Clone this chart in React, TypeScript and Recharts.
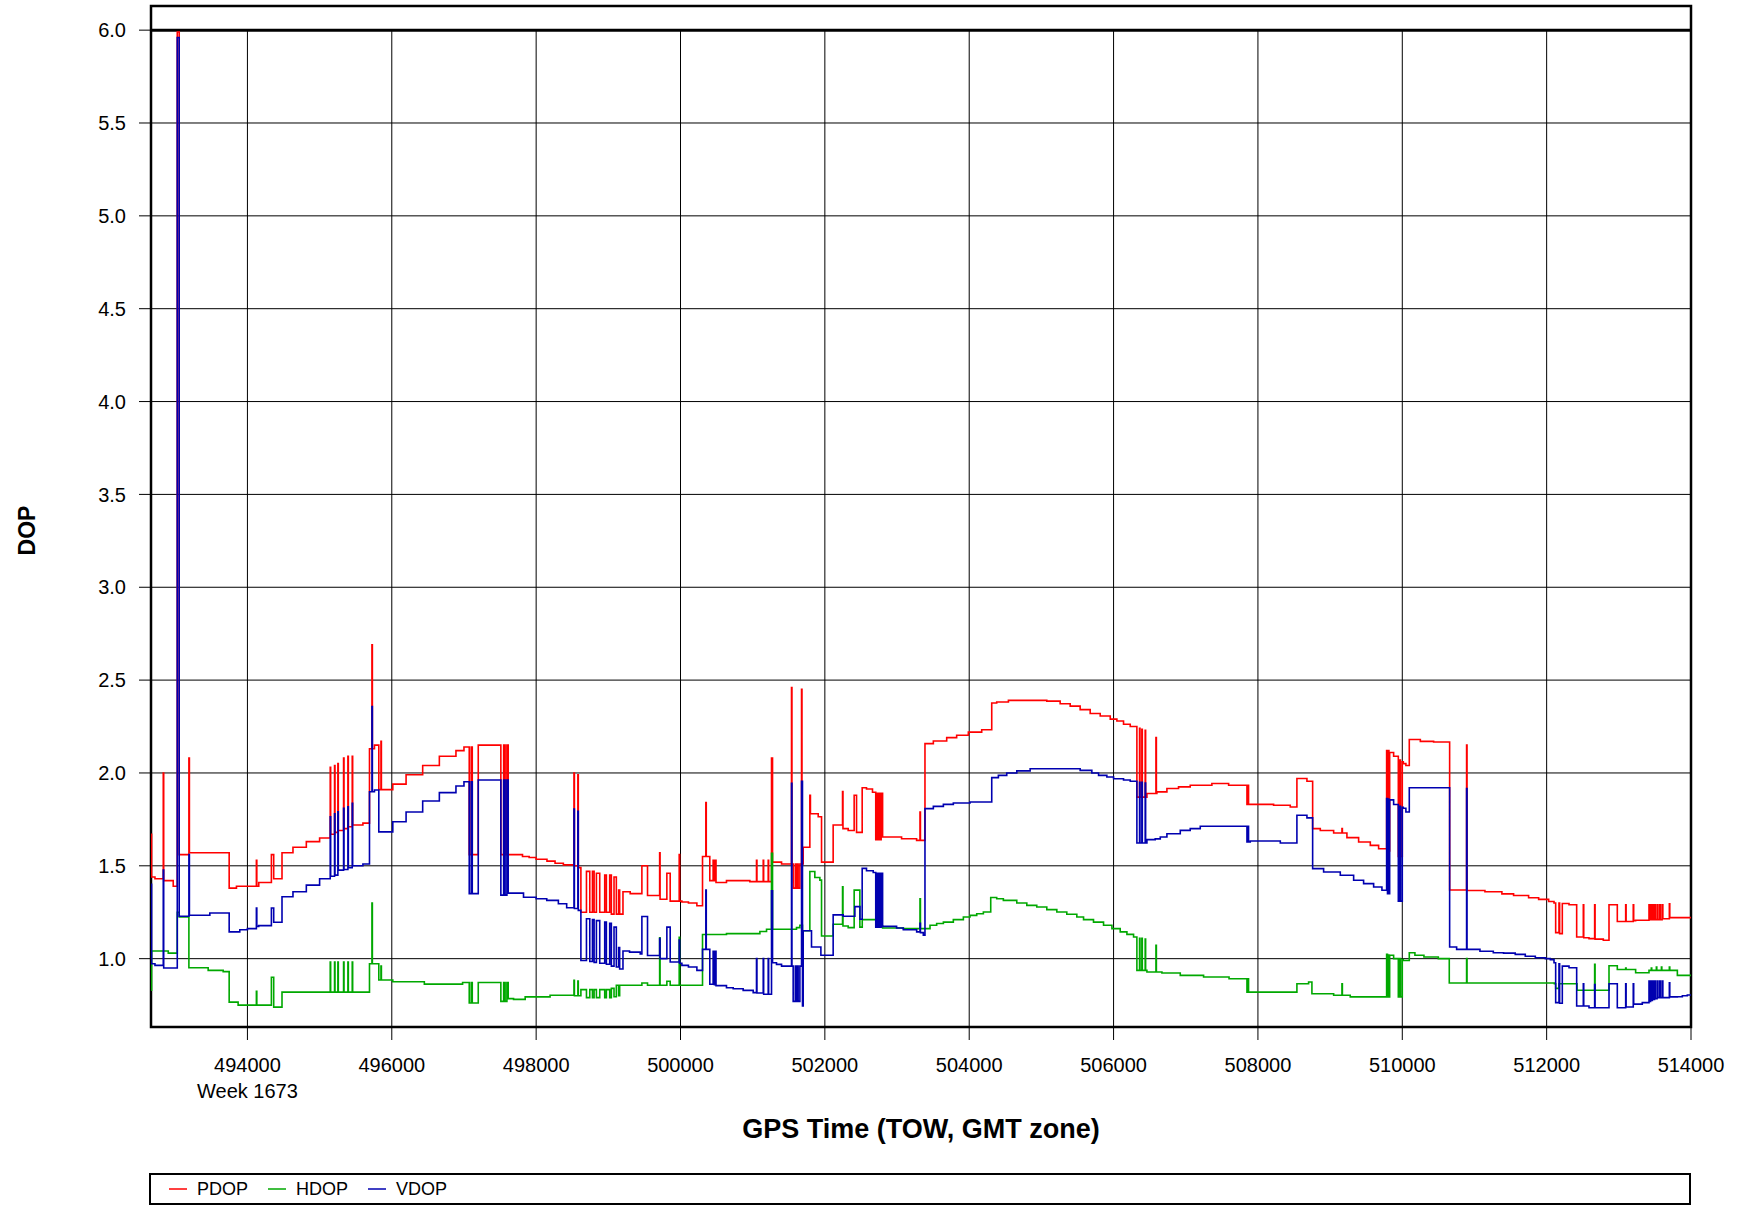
import React from "react";
import {
  LineChart,
  Line,
  XAxis,
  YAxis,
  CartesianGrid,
  ReferenceArea,
  ReferenceLine,
  Legend,
} from "recharts";

// GPS time of week (s) and DOP value; step-after series
const PDOP: [number, number][] = [
  [492664, 1.67], [492672, 1.44], [492719, 1.43], [492834, 2.0], [492840, 1.42], [492972, 1.39],
  [493028, 5.99], [493055, 1.56], [493189, 2.08], [493196, 1.57], [493747, 1.38], [493848, 1.39],
  [494124, 1.53], [494130, 1.39], [494157, 1.41], [494332, 1.56], [494364, 1.43], [494479, 1.57],
  [494631, 1.6], [494816, 1.63], [495000, 1.65], [495147, 2.03], [495153, 1.67], [495207, 2.04],
  [495213, 1.68], [495253, 2.05], [495259, 1.69], [495332, 2.08], [495338, 1.7], [495392, 2.09],
  [495398, 1.71], [495452, 2.09], [495458, 1.72], [495600, 1.73], [495691, 2.13], [495725, 2.69],
  [495731, 2.13], [495760, 2.15], [495820, 1.91], [495850, 2.17], [495856, 1.91], [496014, 1.94],
  [496198, 1.99], [496428, 2.04], [496659, 2.09], [496889, 2.12], [497000, 2.14], [497073, 1.56],
  [497100, 2.14], [497115, 1.56], [497198, 2.15], [497511, 1.56], [497550, 2.15], [497570, 1.56],
  [497595, 2.15], [497613, 1.56], [497811, 1.55], [497903, 1.545], [498000, 1.535], [498150, 1.525],
  [498262, 1.514], [498377, 1.505], [498524, 2.0], [498530, 1.5], [498578, 1.99], [498584, 1.49],
  [498620, 1.25], [498697, 1.47], [498743, 1.25], [498780, 1.47], [498803, 1.25], [498835, 1.46],
  [498881, 1.25], [498950, 1.45], [498973, 1.25], [499019, 1.45], [499042, 1.24], [499079, 1.44],
  [499111, 1.24], [499143, 1.37], [499157, 1.24], [499203, 1.36], [499303, 1.35], [499465, 1.5],
  [499543, 1.34], [499711, 1.57], [499717, 1.32], [499811, 1.46], [499857, 1.31], [499982, 1.56],
  [499988, 1.31], [500019, 1.305], [500110, 1.3], [500227, 1.285], [500305, 1.55], [500351, 1.84],
  [500357, 1.55], [500406, 1.42], [500452, 1.53], [500470, 1.42], [500480, 1.53], [500492, 1.41],
  [500637, 1.42], [500961, 1.415], [501053, 1.53], [501059, 1.415], [501146, 1.53], [501152, 1.415],
  [501215, 1.53], [501221, 1.415], [501261, 2.08], [501275, 1.52], [501400, 1.51], [501538, 2.46],
  [501544, 1.51], [501561, 1.38], [501590, 1.51], [501600, 1.38], [501620, 1.51], [501630, 1.38],
  [501654, 1.51], [501677, 2.45], [501683, 1.51], [501700, 1.6], [501792, 1.88], [501800, 1.78],
  [501908, 1.764], [501954, 1.52], [502115, 1.72], [502245, 1.9], [502251, 1.7], [502323, 1.69],
  [502406, 1.88], [502439, 1.68], [502517, 1.92], [502577, 1.914], [502660, 1.896], [502705, 1.64],
  [502720, 1.89], [502740, 1.64], [502755, 1.89], [502770, 1.64], [502780, 1.89], [502800, 1.655],
  [503063, 1.646], [503271, 1.637], [503318, 1.79], [503324, 1.637], [503387, 2.158], [503503, 2.172],
  [503688, 2.19], [503826, 2.203], [503988, 2.22], [504173, 2.233], [504312, 2.377], [504381, 2.382],
  [504543, 2.391], [505075, 2.387], [505260, 2.373], [505399, 2.36], [505537, 2.341], [505676, 2.32],
  [505815, 2.307], [505954, 2.29], [506046, 2.28], [506138, 2.262], [506231, 2.25], [506323, 1.87],
  [506360, 2.24], [506366, 1.87], [506392, 2.235], [506398, 1.87], [506438, 2.23], [506444, 1.87],
  [506462, 1.889], [506587, 2.19], [506593, 1.89], [506600, 1.898], [506739, 1.916], [506900, 1.925],
  [507062, 1.934], [507362, 1.943], [507594, 1.934], [507848, 1.831], [507860, 1.934], [507870, 1.831],
  [508217, 1.826], [508448, 1.817], [508540, 1.97], [508679, 1.955], [508758, 1.7], [508864, 1.69],
  [509049, 1.677], [509164, 1.7], [509170, 1.677], [509233, 1.652], [509395, 1.628], [509557, 1.61],
  [509672, 1.592], [509783, 2.12], [509795, 1.58], [509805, 2.12], [509815, 1.58], [509825, 2.11],
  [509880, 2.09], [509945, 1.55], [509960, 2.07], [509975, 1.55], [510000, 2.06], [510014, 2.05],
  [510050, 2.04], [510097, 2.18], [510250, 2.17], [510434, 2.167], [510656, 1.37], [510891, 2.15],
  [510897, 1.367], [511145, 1.36], [511380, 1.349], [511542, 1.34], [511750, 1.328], [511889, 1.319],
  [512028, 1.308], [512102, 1.3], [512125, 1.14], [512171, 1.3], [512180, 1.135], [512217, 1.297],
  [512310, 1.29], [512416, 1.117], [512508, 1.29], [512514, 1.113], [512587, 1.108], [512665, 1.29],
  [512671, 1.105], [512785, 1.099], [512864, 1.29], [512979, 1.2], [513095, 1.29], [513101, 1.2],
  [513200, 1.29], [513206, 1.205], [513233, 1.207], [513418, 1.29], [513425, 1.21], [513440, 1.29],
  [513448, 1.21], [513465, 1.29], [513475, 1.21], [513495, 1.29], [513505, 1.21], [513530, 1.29],
  [513540, 1.21], [513565, 1.29], [513575, 1.21], [513600, 1.29], [513610, 1.215], [513700, 1.295],
  [513706, 1.221], [514000, 1.221],
];

const HDOP: [number, number][] = [
  [492664, 0.83], [492672, 1.041], [492903, 1.03], [493028, 1.25], [493055, 1.225], [493189, 0.951],
  [493456, 0.937], [493664, 0.93], [493747, 0.766], [493871, 0.75], [494124, 0.824], [494130, 0.75],
  [494332, 0.9], [494364, 0.739], [494479, 0.82], [495147, 0.982], [495153, 0.82], [495207, 0.982],
  [495213, 0.82], [495253, 0.982], [495259, 0.82], [495332, 0.982], [495338, 0.82], [495392, 0.982],
  [495398, 0.82], [495452, 0.982], [495458, 0.82], [495691, 0.973], [495725, 1.3], [495731, 0.973],
  [495820, 0.885], [495850, 0.96], [495856, 0.885], [496014, 0.876], [496451, 0.863], [496981, 0.872],
  [497073, 0.761], [497100, 0.872], [497115, 0.761], [497198, 0.872], [497511, 0.77], [497550, 0.872],
  [497570, 0.77], [497595, 0.872], [497613, 0.785], [497687, 0.781], [497848, 0.794], [498193, 0.803],
  [498524, 0.884], [498530, 0.8], [498578, 0.88], [498584, 0.8], [498620, 0.833], [498697, 0.79],
  [498743, 0.833], [498780, 0.79], [498803, 0.833], [498835, 0.79], [498881, 0.833], [498950, 0.79],
  [498973, 0.833], [499019, 0.79], [499042, 0.84], [499079, 0.795], [499111, 0.857], [499143, 0.8],
  [499157, 0.857], [499465, 0.869], [499543, 0.857], [499711, 1.112], [499717, 0.857], [499811, 0.878],
  [499857, 0.857], [499982, 1.115], [499988, 0.857], [500305, 1.13], [500637, 1.135], [501100, 1.146],
  [501192, 1.158], [501261, 1.567], [501275, 1.158], [501607, 1.167], [501654, 1.18], [501690, 1.15],
  [501792, 1.469], [501861, 1.437], [501931, 1.423], [501954, 1.122], [502115, 1.185], [502245, 1.387],
  [502251, 1.176], [502323, 1.167], [502406, 1.369], [502485, 1.17], [502518, 1.21], [502717, 1.175],
  [502800, 1.165], [503087, 1.162], [503318, 1.323], [503324, 1.162], [503457, 1.18], [503549, 1.189],
  [503642, 1.197], [503780, 1.21], [503919, 1.224], [504011, 1.233], [504104, 1.242], [504196, 1.251],
  [504298, 1.329], [504381, 1.323], [504473, 1.314], [504659, 1.3], [504798, 1.287], [504936, 1.278],
  [505075, 1.264], [505214, 1.251], [505352, 1.239], [505491, 1.224], [505584, 1.21], [505722, 1.197],
  [505861, 1.18], [505977, 1.162], [506092, 1.144], [506185, 1.131], [506277, 1.117], [506323, 0.937],
  [506360, 1.11], [506366, 0.937], [506392, 1.11], [506398, 0.937], [506438, 1.105], [506444, 0.937],
  [506462, 0.928], [506587, 1.072], [506593, 0.928], [506670, 0.923], [506924, 0.91], [507247, 0.901],
  [507600, 0.892], [507848, 0.82], [507860, 0.892], [507870, 0.82], [508540, 0.865], [508702, 0.874],
  [508748, 0.811], [509049, 0.803], [509164, 0.865], [509170, 0.803], [509279, 0.794], [509783, 1.023],
  [509795, 0.794], [509805, 1.02], [509815, 0.794], [509825, 1.018], [509880, 1.0], [509945, 0.794],
  [509960, 1.0], [509975, 0.794], [510000, 0.995], [510014, 0.99], [510097, 1.032], [510175, 1.018],
  [510300, 1.009], [510499, 1.0], [510651, 0.869], [510891, 1.0], [510897, 0.869], [512107, 0.865],
  [512125, 0.84], [512171, 0.865], [512421, 0.83], [512665, 0.97], [512671, 0.83], [512864, 0.962],
  [512979, 0.942], [513095, 0.95], [513101, 0.942], [513233, 0.924], [513418, 0.937], [513450, 0.95],
  [513456, 0.937], [513520, 0.955], [513526, 0.937], [513590, 0.955], [513596, 0.937], [513700, 0.955],
  [513706, 0.937], [513811, 0.91], [514000, 0.91],
];

const VDOP: [number, number][] = [
  [492664, 1.4], [492672, 0.973], [492719, 0.964], [492834, 1.477], [492840, 0.95], [493028, 5.96],
  [493055, 1.228], [493189, 1.561], [493196, 1.234], [493479, 1.246], [493747, 1.144], [493894, 1.156],
  [494000, 1.162], [494124, 1.273], [494130, 1.174], [494157, 1.178], [494332, 1.273], [494364, 1.196],
  [494479, 1.333], [494631, 1.36], [494816, 1.396], [495000, 1.43], [495147, 1.764], [495153, 1.444],
  [495207, 1.78], [495213, 1.45], [495253, 1.791], [495259, 1.477], [495332, 1.81], [495338, 1.48],
  [495392, 1.818], [495398, 1.49], [495452, 1.836], [495458, 1.5], [495600, 1.51], [495691, 1.899],
  [495725, 2.358], [495731, 1.899], [495760, 1.908], [495820, 1.683], [496014, 1.737], [496198, 1.79],
  [496428, 1.849], [496659, 1.894], [496889, 1.93], [497000, 1.953], [497073, 1.35], [497100, 1.953],
  [497115, 1.35], [497198, 1.962], [497511, 1.342], [497550, 1.962], [497570, 1.342], [497595, 1.962],
  [497613, 1.353], [497825, 1.331], [498000, 1.323], [498147, 1.314], [498308, 1.296], [498423, 1.274],
  [498524, 1.806], [498530, 1.27], [498578, 1.794], [498584, 1.26], [498620, 0.99], [498697, 1.215],
  [498743, 0.985], [498780, 1.21], [498803, 0.98], [498835, 1.205], [498881, 0.975], [498950, 1.197],
  [498973, 0.97], [499019, 1.19], [499042, 0.96], [499079, 1.17], [499111, 0.955], [499143, 1.06],
  [499157, 0.944], [499203, 1.041], [499294, 1.035], [499442, 1.026], [499465, 1.227], [499543, 1.017],
  [499711, 1.108], [499717, 1.0], [499811, 1.17], [499857, 0.982], [499982, 1.1], [499988, 0.975],
  [500019, 0.964], [500110, 0.955], [500227, 0.937], [500305, 1.05], [500351, 1.37], [500357, 1.05],
  [500406, 0.862], [500452, 1.04], [500470, 0.86], [500480, 1.04], [500492, 0.855], [500637, 0.843],
  [500730, 0.838], [500868, 0.829], [501007, 0.817], [501053, 1.0], [501059, 0.815], [501146, 1.0],
  [501152, 0.808], [501215, 1.0], [501221, 0.808], [501261, 1.365], [501275, 0.978], [501330, 0.969],
  [501400, 0.96], [501538, 1.944], [501544, 0.96], [501561, 0.77], [501590, 0.96], [501600, 0.77],
  [501620, 0.96], [501630, 0.77], [501654, 0.96], [501677, 1.955], [501690, 0.745], [501700, 1.15],
  [501815, 1.063], [501945, 1.018], [502115, 1.236], [502254, 1.228], [502416, 1.28], [502486, 1.212],
  [502517, 1.486], [502577, 1.473], [502670, 1.464], [502705, 1.17], [502720, 1.46], [502740, 1.17],
  [502755, 1.46], [502770, 1.17], [502780, 1.46], [502800, 1.174], [502994, 1.165], [503087, 1.156],
  [503272, 1.144], [503318, 1.19], [503324, 1.14], [503364, 1.126], [503387, 1.808], [503503, 1.82],
  [503642, 1.831], [503780, 1.838], [504011, 1.844], [504312, 1.975], [504404, 1.987], [504520, 2.0],
  [504659, 2.011], [504844, 2.023], [505537, 2.014], [505699, 2.0], [505792, 1.987], [505907, 1.978],
  [506000, 1.969], [506138, 1.962], [506231, 1.955], [506323, 1.623], [506360, 1.95], [506366, 1.623],
  [506392, 1.95], [506398, 1.623], [506438, 1.945], [506444, 1.623], [506462, 1.641], [506577, 1.645],
  [506647, 1.655], [506739, 1.673], [506924, 1.691], [507062, 1.7], [507201, 1.713], [507848, 1.628],
  [507860, 1.713], [507870, 1.628], [507894, 1.634], [508310, 1.623], [508540, 1.772], [508679, 1.758],
  [508758, 1.485], [508910, 1.467], [509141, 1.449], [509326, 1.422], [509464, 1.404], [509603, 1.386],
  [509718, 1.368], [509783, 1.862], [509795, 1.35], [509805, 1.86], [509815, 1.35], [509825, 1.855],
  [509880, 1.83], [509945, 1.31], [509960, 1.82], [509975, 1.31], [510000, 1.815], [510014, 1.81],
  [510050, 1.79], [510097, 1.92], [510656, 1.063], [510753, 1.05], [510891, 1.916], [510897, 1.05],
  [511076, 1.04], [511261, 1.032], [511403, 1.03], [511565, 1.023], [511704, 1.013], [511843, 1.005],
  [511982, 1.0], [512051, 0.995], [512102, 0.978], [512125, 0.763], [512171, 0.973], [512180, 0.76],
  [512217, 0.96], [512310, 0.951], [512416, 0.745], [512508, 0.865], [512514, 0.745], [512587, 0.736],
  [512665, 0.86], [512671, 0.736], [512864, 0.865], [512979, 0.736], [513095, 0.865], [513101, 0.74],
  [513200, 0.865], [513206, 0.755], [513325, 0.763], [513418, 0.88], [513425, 0.77], [513440, 0.88],
  [513448, 0.775], [513465, 0.88], [513475, 0.78], [513495, 0.88], [513505, 0.785], [513530, 0.88],
  [513540, 0.79], [513565, 0.88], [513575, 0.79], [513600, 0.88], [513610, 0.79], [513700, 0.87],
  [513706, 0.794], [513811, 0.795], [513880, 0.8], [513949, 0.804], [514000, 0.808],
];

const TOW_TICKS = [494000, 496000, 498000, 500000, 502000, 504000, 506000, 508000, 510000, 512000, 514000];
const DOP_TICKS = [1.0, 1.5, 2.0, 2.5, 3.0, 3.5, 4.0, 4.5, 5.0, 5.5, 6.0];
const TOW_DOMAIN: [number, number] = [492664, 514000];
const DOP_DOMAIN: [number, number] = [0.632, 6.13];
const WEEK_TICK = 494000;
const WEEK_LABEL = "Week 1673";

const FONT = "'Liberation Sans', Arial, Helvetica, sans-serif";

const toRows = (pts: [number, number][]) => pts.map(([t, v]) => ({ t, v }));

const series = [
  { name: "PDOP", color: "#ff0000", data: toRows(PDOP) },
  { name: "HDOP", color: "#00a800", data: toRows(HDOP) },
  { name: "VDOP", color: "#0000b0", data: toRows(VDOP) },
];

function TowTick(props: any) {
  const { x, y, payload } = props;
  return (
    <g>
      <text x={x} y={y} dy="0.71em" textAnchor="middle" fontSize={20} fill="#000" fontFamily={FONT}>
        {payload.value}
      </text>
      {payload.value === WEEK_TICK && (
        <text x={x} y={y} dy="2em" textAnchor="middle" fontSize={20} fill="#000" fontFamily={FONT}>
          {WEEK_LABEL}
        </text>
      )}
    </g>
  );
}

// legend keeps the series order (Recharts would sort it by name)
function DopLegend() {
  return (
    <div
      style={{
        boxSizing: "border-box",
        width: "100%",
        height: "100%",
        border: "2px solid #000",
        display: "flex",
        alignItems: "center",
        paddingLeft: 18,
        fontFamily: FONT,
        fontSize: 18,
        color: "#000",
        background: "#fff",
      }}
    >
      {series.map((s) => (
        <span key={s.name} style={{ display: "flex", alignItems: "center", marginRight: 20 }}>
          <svg width={18} height={4}>
            <line x1={0} y1={2} x2={18} y2={2} stroke={s.color} strokeWidth={1.5} />
          </svg>
          <span style={{ marginLeft: 10 }}>{s.name}</span>
        </span>
      ))}
    </div>
  );
}

export default function App() {
  return (
    <div style={{ position: "absolute", left: 0, top: 0, fontFamily: FONT, background: "#fff" }}>
      <LineChart width={1743} height={1206} margin={{ top: 6, right: 52, bottom: 59, left: 0 }}>
        <CartesianGrid stroke="#000" strokeWidth={1} />
        <XAxis
          type="number"
          dataKey="t"
          domain={TOW_DOMAIN}
          ticks={TOW_TICKS}
          allowDataOverflow
          height={120}
          axisLine={false}
          tickLine={{ stroke: "#000" }}
          tickSize={13}
          tickMargin={18}
          tick={<TowTick />}
          label={{
            content: (p: any) => {
              const vb = p.viewBox;
              return (
                <text
                  x={vb.x + vb.width / 2}
                  y={vb.y + vb.height - 9}
                  textAnchor="middle"
                  fontSize={27}
                  fontWeight="bold"
                  fontFamily={FONT}
                  fill="#000"
                >
                  GPS Time (TOW, GMT zone)
                </text>
              );
            },
          }}
        />
        <YAxis
          type="number"
          domain={DOP_DOMAIN}
          ticks={DOP_TICKS}
          allowDataOverflow
          width={151}
          axisLine={false}
          tickLine={{ stroke: "#000" }}
          tickSize={12}
          tickMargin={13}
          tick={{ fontSize: 20, fill: "#000", fontFamily: FONT }}
          tickFormatter={(v: number) => v.toFixed(1)}
          label={{
            content: (p: any) => {
              const vb = p.viewBox;
              const cx = 27;
              const cy = vb.y + vb.height / 2 + 14;
              return (
                <text
                  x={cx}
                  y={cy}
                  transform={`rotate(-90, ${cx}, ${cy})`}
                  textAnchor="middle"
                  dominantBaseline="central"
                  fontSize={23}
                  fontWeight="bold"
                  fontFamily={FONT}
                  fill="#000"
                >
                  DOP
                </text>
              );
            },
          }}
        />
        <ReferenceArea y1={6} y2={DOP_DOMAIN[1]} fill="#fff" fillOpacity={1} stroke="none" />
        <ReferenceLine y={6} stroke="#000" strokeWidth={3} />
        {series.map((s) => (
          <Line
            key={s.name}
            data={s.data}
            dataKey="v"
            name={s.name}
            type="stepAfter"
            stroke={s.color}
            strokeWidth={1.6}
            dot={false}
            activeDot={false}
            isAnimationActive={false}
          />
        ))}
        <ReferenceArea
          x1={TOW_DOMAIN[0]}
          x2={TOW_DOMAIN[1]}
          y1={DOP_DOMAIN[0]}
          y2={DOP_DOMAIN[1]}
          fill="none"
          stroke="#000"
          strokeWidth={2.5}
        />
        <Legend
          layout="horizontal"
          verticalAlign="middle"
          align="center"
          content={<DopLegend />}
          wrapperStyle={{ left: 149, top: 1173, width: 1542, height: 32 }}
        />
      </LineChart>
    </div>
  );
}
